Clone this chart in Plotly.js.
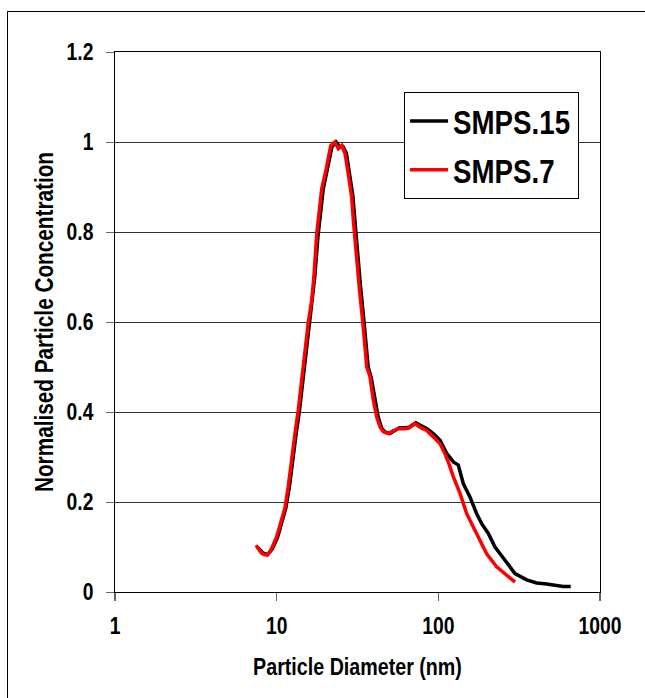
<!DOCTYPE html>
<html>
<head>
<meta charset="utf-8">
<script src="https://cdn.plot.ly/plotly-3.0.1.min.js"></script>
<style>
  html, body { margin: 0; padding: 0; background: #fff; }
  #wrap { position: relative; width: 645px; height: 698px; overflow: hidden; }
  #frame { position: absolute; left: 7px; top: 11px; width: 700px; height: 760px; border: 1px solid #000; box-sizing: border-box; pointer-events: none; }
  #chart { position: absolute; left: 0; top: 0; width: 645px; height: 698px; }
</style>
</head>
<body>
<div id="wrap">
  <div id="chart"></div>
  <div id="frame"></div>
</div>
<script>
// SMPS.15 (black) — particle diameter (nm) and normalised concentration
const smps15Diameter = [7.6, 8.2, 8.8, 9.4, 10.1, 10.9, 11.4, 12.0, 12.6, 13.2, 13.8, 16.0, 17.2, 18.0, 18.8, 19.4, 20.6, 21.3, 22.0, 23.3, 24.5, 25.7, 27.0, 28.2, 29.6, 30.4, 31.6, 33.0, 34.7, 36.8, 38.5, 40.3, 42.4, 44.5, 46.6, 50.0, 53.5, 57.5, 61.7, 66.0, 72.5, 80.0, 86.0, 94.5, 102.4, 112.6, 123.9, 132.9, 142.6, 156.9, 172.6, 185.4, 203.8, 224.2, 240.6, 264.8, 298.0, 352.0, 405.8, 467.7, 539.5, 593.0, 658.8];
const smps15Conc = [0.100, 0.087, 0.083, 0.096, 0.120, 0.160, 0.187, 0.235, 0.300, 0.352, 0.400, 0.600, 0.700, 0.790, 0.860, 0.895, 0.940, 0.970, 0.990, 1.000, 0.990, 0.990, 0.975, 0.930, 0.880, 0.830, 0.750, 0.680, 0.600, 0.500, 0.475, 0.430, 0.390, 0.365, 0.356, 0.352, 0.358, 0.365, 0.365, 0.366, 0.376, 0.367, 0.362, 0.350, 0.337, 0.308, 0.289, 0.282, 0.241, 0.211, 0.174, 0.152, 0.130, 0.100, 0.085, 0.064, 0.041, 0.027, 0.020, 0.018, 0.014, 0.012, 0.012];

// SMPS.7 (red)
const smps7Diameter = [7.45, 7.8, 8.08, 8.4, 8.68, 9.0, 9.31, 10.0, 10.74, 11.26, 11.8, 12.4, 12.98, 13.6, 14.6, 15.7, 16.5, 17.0, 17.7, 18.4, 19.0, 20.2, 20.9, 21.6, 22.9, 24.1, 25.3, 26.5, 27.7, 29.1, 29.8, 31.0, 32.4, 34.0, 36.1, 37.8, 39.6, 41.6, 43.6, 45.7, 49.0, 52.6, 56.5, 60.7, 65.2, 71.7, 78.9, 84.7, 93.1, 102.4, 109.9, 115.2, 123.9, 136.2, 149.8, 164.6, 181.0, 199.0, 229.6, 264.8, 298.0];
const smps7Conc = [0.104, 0.095, 0.086, 0.083, 0.082, 0.088, 0.097, 0.123, 0.160, 0.187, 0.235, 0.300, 0.352, 0.404, 0.500, 0.600, 0.650, 0.700, 0.797, 0.860, 0.896, 0.938, 0.970, 0.992, 1.000, 0.985, 0.992, 0.974, 0.930, 0.878, 0.827, 0.752, 0.678, 0.604, 0.500, 0.478, 0.427, 0.389, 0.367, 0.356, 0.352, 0.358, 0.363, 0.363, 0.364, 0.374, 0.364, 0.359, 0.344, 0.330, 0.307, 0.289, 0.256, 0.219, 0.174, 0.145, 0.115, 0.085, 0.056, 0.037, 0.022];

const seriesNames = ['SMPS.15', 'SMPS.7'];
const xTickVals = [1, 10, 100, 1000];
const xTickText = ['1', '10', '100', '1000'];
const yTickVals = [0, 0.2, 0.4, 0.6, 0.8, 1, 1.2];
const yTickText = ['0', '0.2', '0.4', '0.6', '0.8', '1', '1.2'];
const xTitle = 'Particle Diameter (nm)';
const yTitle = 'Normalised Particle Concentration';

const FONT = '"Liberation Sans Narrow", "Arial Narrow", "Liberation Sans", Arial, sans-serif';

const traces = [
  { x: smps15Diameter, y: smps15Conc, name: seriesNames[0], type: 'scatter', mode: 'lines',
    legendgroup: 'a', line: { color: '#000000', width: 3.5 } },
  { x: smps7Diameter, y: smps7Conc, name: seriesNames[1], type: 'scatter', mode: 'lines',
    legendgroup: 'b', line: { color: '#ff0000', width: 3.5 } }
];

const layout = {
  width: 645, height: 698,
  margin: { l: 115, r: 45, t: 52, b: 106, pad: 0 },
  paper_bgcolor: 'rgba(0,0,0,0)',
  plot_bgcolor: '#ffffff',
  font: { family: FONT, color: '#000', size: 23, weight: 'bold' },
  showlegend: true,
  legend: {
    x: 0.596, y: 0.926, xanchor: 'left', yanchor: 'top',
    bgcolor: '#ffffff', bordercolor: '#000', borderwidth: 1,
    font: { family: FONT, size: 33, color: '#000', weight: 'bold' },
    itemwidth: 38,
    tracegroupgap: 3
  },
  xaxis: {
    type: 'log', range: [0, 3], autorange: false,
    tickmode: 'array', tickvals: xTickVals, ticktext: xTickText,
    ticks: 'outside', ticklen: 8, tickcolor: '#666', tickwidth: 1.5,
    ticklabelstandoff: 5,
    showline: true, linecolor: '#000', linewidth: 1, mirror: true,
    showgrid: false, zeroline: false,
    tickfont: { family: FONT, size: 23, color: '#000', weight: 'bold' },
    title: { text: xTitle, font: { family: FONT, size: 24, color: '#000', weight: 'bold' }, standoff: 20 },
    automargin: false
  },
  yaxis: {
    range: [0, 1.2], autorange: false,
    tickmode: 'array', tickvals: yTickVals, ticktext: yTickText,
    ticks: 'outside', ticklen: 8, tickcolor: '#666', tickwidth: 1,
    ticklabelstandoff: 8,
    showline: true, linecolor: '#000', linewidth: 1, mirror: true,
    showgrid: true, gridcolor: '#333', gridwidth: 1,
    zeroline: false,
    tickfont: { family: FONT, size: 23, color: '#000', weight: 'bold' },
    title: { text: yTitle, font: { family: FONT, size: 25, color: '#000', weight: 'bold' }, standoff: 0 },
    automargin: false
  }
};

// Narrow the (Arial-Narrow-like) bold text horizontally about each text's own anchor point.
function narrow(el, s) {
  const x = parseFloat(el.getAttribute('x')) || 0;
  const y = parseFloat(el.getAttribute('y')) || 0;
  const t = el.getAttribute('transform') || '';
  el.setAttribute('transform', t + ' translate(' + x + ',' + y + ') scale(' + s + ',1) translate(' + (-x) + ',' + (-y) + ')');
}

Plotly.newPlot('chart', traces, layout, { displayModeBar: false, staticPlot: true }).then(function (gd) {
  gd.querySelectorAll('g.xtick text, g.ytick text').forEach(el => narrow(el, 0.84));
  gd.querySelectorAll('g.g-xtitle text').forEach(el => narrow(el, 0.82));
  gd.querySelectorAll('g.g-ytitle text').forEach(el => narrow(el, 0.83));
  const LS = 0.84;
  let maxRight = 0;
  gd.querySelectorAll('g.legend text.legendtext').forEach(el => {
    const bb = el.getBBox();
    narrow(el, LS);
    const x = parseFloat(el.getAttribute('x')) || 0;
    maxRight = Math.max(maxRight, x + (bb.x + bb.width - x) * LS);
  });
  const bg = gd.querySelector('g.legend rect.bg');
  if (bg && maxRight > 0) {
    bg.setAttribute('width', Math.round(maxRight + 8 + 1));
  }
});
</script>
</body>
</html>
